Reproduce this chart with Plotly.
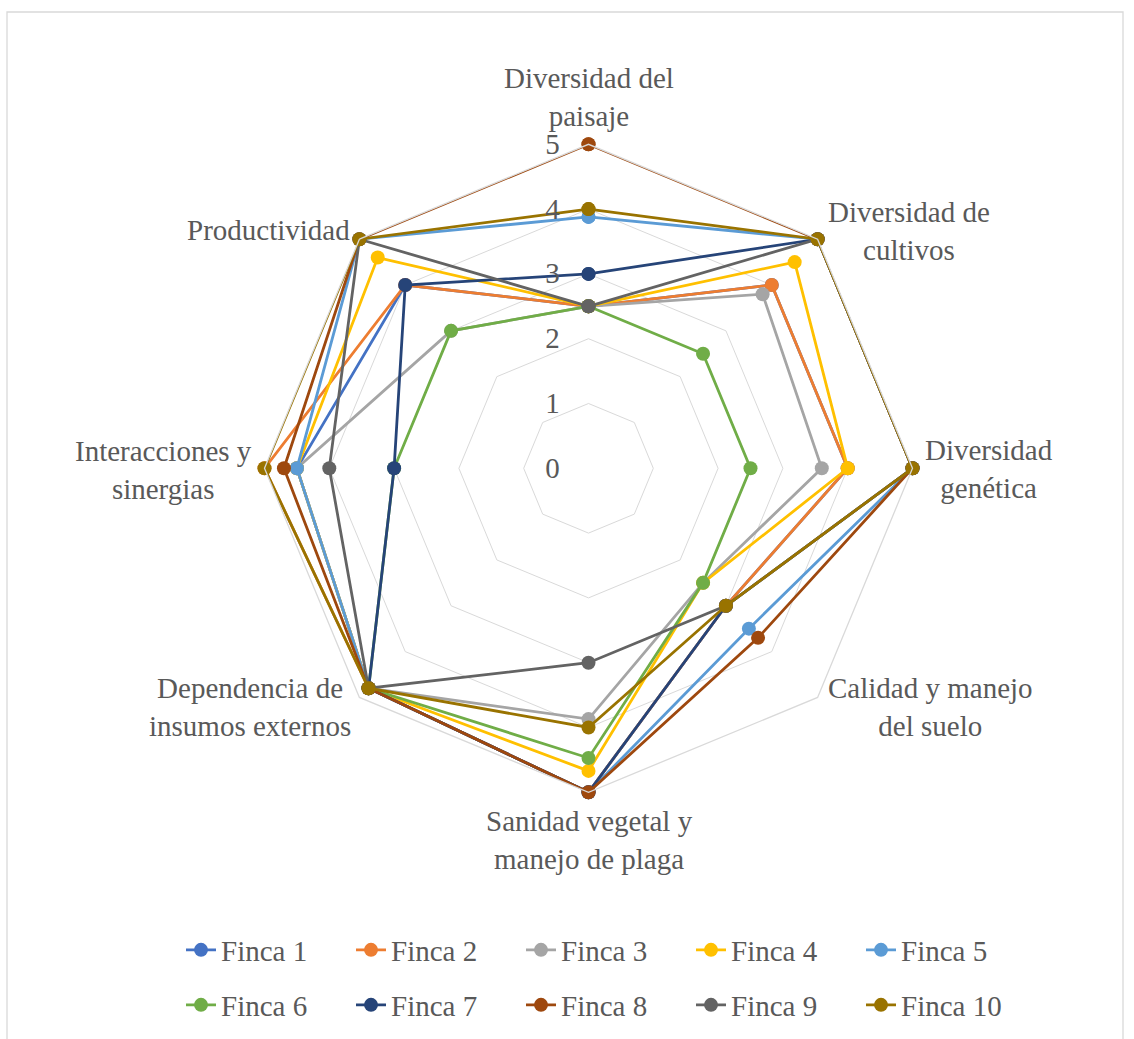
import plotly.graph_objects as go

categories = [
    "Diversidad del paisaje",
    "Diversidad de cultivos",
    "Diversidad genética",
    "Calidad y manejo del suelo",
    "Sanidad vegetal y manejo de plaga",
    "Dependencia de insumos externos",
    "Interacciones y sinergias",
    "Productividad",
]
axis_labels = [
    "Diversidad del<br>paisaje",
    "Diversidad de<br>cultivos",
    "Diversidad<br>genética",
    "Calidad y manejo<br>del suelo",
    "Sanidad vegetal y<br>manejo de plaga",
    "Dependencia de<br>insumos externos",
    "Interacciones y<br>sinergias",
    "Productividad",
]
radial_ticks = [0, 1, 2, 3, 4, 5]

series_names = ["Finca 1", "Finca 2", "Finca 3", "Finca 4", "Finca 5",
                "Finca 6", "Finca 7", "Finca 8", "Finca 9", "Finca 10"]

finca_1 = [2.5, 4.0, 4.0, 3.0, 5.0, 4.8, 4.5, 4.0]
finca_2 = [2.5, 4.0, 4.0, 3.0, 5.0, 4.8, 5.0, 4.0]
finca_3 = [2.5, 3.8, 3.6, 2.5, 3.87, 4.8, 4.5, 3.0]
finca_4 = [2.5, 4.5, 4.0, 2.5, 4.67, 4.8, 4.5, 4.6]
finca_5 = [3.88, 5.0, 5.0, 3.5, 5.0, 4.8, 4.5, 5.0]
finca_6 = [2.5, 2.5, 2.5, 2.5, 4.47, 4.8, 3.0, 3.0]
finca_7 = [3.0, 5.0, 5.0, 3.0, 5.0, 4.8, 3.0, 4.0]
finca_8 = [5.0, 5.0, 5.0, 3.7, 5.0, 4.8, 4.7, 5.0]
finca_9 = [2.5, 5.0, 5.0, 3.0, 3.0, 4.8, 4.0, 5.0]
finca_10 = [4.0, 5.0, 5.0, 3.0, 4.0, 4.8, 5.0, 5.0]

series_values = [finca_1, finca_2, finca_3, finca_4, finca_5,
                 finca_6, finca_7, finca_8, finca_9, finca_10]

colors = ["#4472C4", "#ED7D31", "#A5A5A5", "#FFC000", "#5B9BD5",
          "#70AD47", "#264478", "#9E480E", "#636363", "#997300"]

FONT = "Liberation Serif, Times New Roman, serif"
TXT = "#595959"
GRID = "#D9D9D9"

W, H = 1134, 1039
cx, cy, R = 588.5, 468.3, 324.0

# pixel centres of the category label blocks (layout only)
label_pos = [(589, 97), (909, 231), (989, 469), (930, 707),
             (589, 840), (250, 707), (163, 470), (268, 230)]

fig = go.Figure()
for i, (name, vals) in enumerate(zip(series_names, series_values)):
    fig.add_trace(go.Scatterpolar(
        r=vals + vals[:1],
        theta=categories + categories[:1],
        mode="lines+markers",
        name=name,
        line=dict(color=colors[i], width=2.8),
        marker=dict(color=colors[i], size=14),
        cliponaxis=False,
        legend="legend" if i < 5 else "legend2",
    ))

legend_common = dict(
    orientation="h",
    font=dict(family=FONT, size=29, color=TXT),
    bgcolor="rgba(0,0,0,0)",
    xanchor="left",
    yanchor="middle",
    entrywidthmode="pixels",
    entrywidth=125,
)

annotations = [
    dict(text=lbl, x=px / W, y=1 - py / H, xref="paper", yref="paper",
         xanchor="center", yanchor="middle", align="center", showarrow=False,
         font=dict(family=FONT, size=29, color=TXT))
    for lbl, (px, py) in zip(axis_labels, label_pos)
]

fig.update_layout(
    width=W, height=H,
    margin=dict(l=0, r=0, t=0, b=0),
    paper_bgcolor="white",
    plot_bgcolor="white",
    font=dict(family=FONT, color=TXT),
    polar=dict(
        domain=dict(x=[(cx - R) / W, (cx + R) / W],
                    y=[1 - (cy + R) / H, 1 - (cy - R) / H]),
        bgcolor="white",
        gridshape="linear",
        radialaxis=dict(
            range=[0, 5],
            tickmode="array",
            tickvals=radial_ticks,
            ticktext=[str(t) for t in radial_ticks],
            angle=90,
            tickangle=90,
            side="counterclockwise",
            showline=False,
            ticks="outside",
            ticklen=18,
            tickcolor="rgba(0,0,0,0)",
            tickfont=dict(family=FONT, size=29, color=TXT),
            gridcolor=GRID,
            gridwidth=1.3,
        ),
        angularaxis=dict(
            direction="clockwise",
            rotation=90,
            showticklabels=False,
            showgrid=False,
            showline=True,
            linecolor=GRID,
            linewidth=1.3,
            ticks="",
        ),
    ),
    legend=dict(legend_common, x=181 / W, y=1 - 950 / H),
    legend2=dict(legend_common, x=181 / W, y=1 - 1005 / H),
    annotations=annotations,
    shapes=[dict(type="rect", xref="paper", yref="paper",
                 x0=7 / W, x1=1123 / W, y0=-0.05, y1=1 - 12 / H,
                 line=dict(color=GRID, width=1.3), fillcolor="rgba(0,0,0,0)",
                 layer="below")],
)

fig.write_html("out.html", config={"displayModeBar": False},
               post_script="document.body.style.margin='0';document.body.style.overflow='hidden';")
